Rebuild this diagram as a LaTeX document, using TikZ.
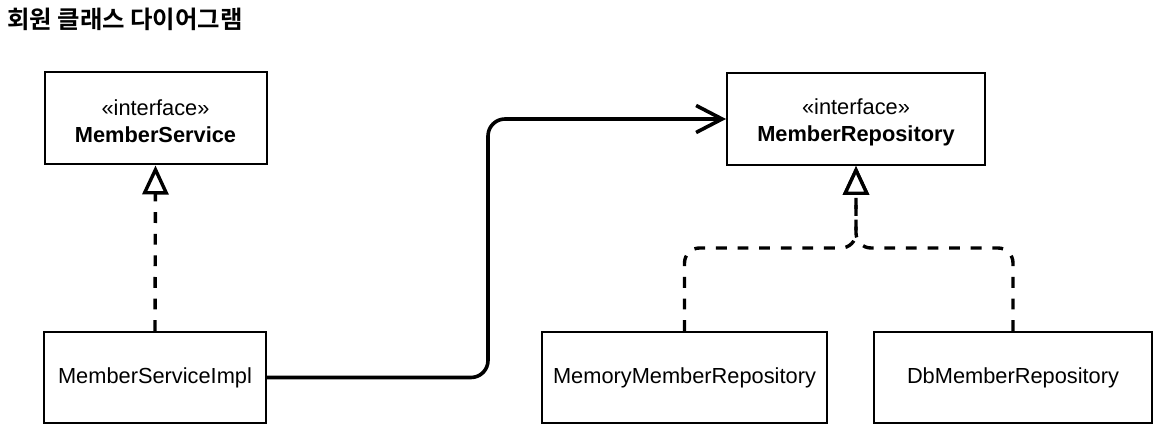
\documentclass[tikz,border=0pt]{standalone}
\usepackage{fontspec}
\setmainfont{Liberation Sans}
\newfontfamily\krfont{Noto Sans CJK KR}[BoldFont={* Bold}]
\usetikzlibrary{arrows.meta,calc}
\begin{document}
\begin{tikzpicture}[x=1pt,y=-1pt,
  classbox/.style={draw=black,line width=2pt,fill=white,inner sep=0pt,align=center,
    font=\fontsize{21.8}{27}\selectfont},
  realize/.style={line width=3.4pt,dash pattern=on 10.8pt off 10.8pt,rounded corners=15pt,
    -{Triangle[open,length=29pt,width=26pt,line width=3.4pt,fill=white]}},
  assoc/.style={line width=3.6pt,rounded corners=17pt,
    -{Straight Barb[length=26pt,width=27pt,line width=3.6pt]}}]
\useasboundingbox (0,0) rectangle (1169,443);
\fill[white] (0,0) rectangle (1169,443);
\node[anchor=base west,inner sep=0pt,font=\krfont\bfseries\fontsize{24.4}{28}\selectfont] (title) at (7,28.5) {회원 클래스 다이어그램};
\node[classbox,minimum width=222pt,minimum height=92pt] (ms) at (155.5,118.5)
  {\rule{0pt}{22pt}«interface»\\\textbf{MemberService}};
\node[classbox,minimum width=222pt,minimum height=91pt] (msi) at (155,377.5) {MemberServiceImpl};
\node[classbox,minimum width=258pt,minimum height=92pt] (mr) at (856,119)
  {\rule{0pt}{22pt}«interface»\\\textbf{MemberRepository}};
\node[classbox,minimum width=285pt,minimum height=91pt] (mmr) at (684.5,377.5) {MemoryMemberRepository};
\node[classbox,minimum width=278pt,minimum height=91pt] (dbr) at (1013,377.5) {DbMemberRepository};
\coordinate (bend) at (488,250);
\coordinate (jn) at (856,248);
\draw[realize] (msi.north) -- (ms.south);
\draw[assoc] (msi.east) -- (msi.east -| bend) -- (bend |- mr.west) -- (mr.west);
\draw[realize] (mmr.north) |- (jn) -- (mr.south);
\draw[realize] (dbr.north) |- (jn) -- (mr.south);
\end{tikzpicture}
\end{document}
